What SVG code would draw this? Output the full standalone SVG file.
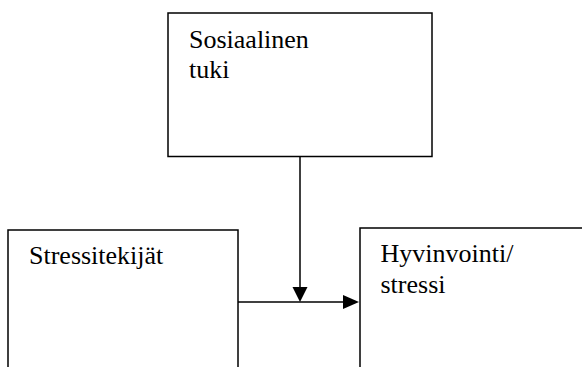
<svg xmlns="http://www.w3.org/2000/svg" width="582" height="367" viewBox="0 0 582 367">
<style>
.box{fill:#fff;stroke:#000;stroke-width:1.5}
.lbl{font-family:'Liberation Serif','Times New Roman','DejaVu Serif',serif;font-size:26px;fill:#000}
.con{stroke:#000;stroke-width:1.5;fill:none}
.head{fill:#000;stroke:none}
</style>
<g id="node-sosiaalinen-tuki">
<rect class="box" x="168" y="13" width="264" height="143.5"/>
<text class="lbl" x="189" y="48" font-family="Liberation Serif, serif">Sosiaalinen</text>
<text class="lbl" x="189" y="78" font-family="Liberation Serif, serif">tuki</text>
</g>
<g id="node-stressitekijat">
<rect class="box" x="8" y="230" width="230" height="150"/>
<text class="lbl" x="29" y="264" font-family="Liberation Serif, serif">Stressitekijät</text>
</g>
<g id="node-hyvinvointi">
<rect class="box" x="360" y="228" width="240" height="150"/>
<text class="lbl" x="380.5" y="262" font-family="Liberation Serif, serif">Hyvinvointi/</text>
<text class="lbl" x="380.5" y="293" font-family="Liberation Serif, serif">stressi</text>
</g>
<g id="connectors">
<line class="con" x1="238" y1="302" x2="345" y2="302"/>
<polygon class="head" points="343,295 359,302 343,309"/>
<line class="con" x1="300" y1="156.5" x2="300" y2="289"/>
<polygon class="head" points="292.5,287 307.5,287 300,302"/>
</g>
</svg>
